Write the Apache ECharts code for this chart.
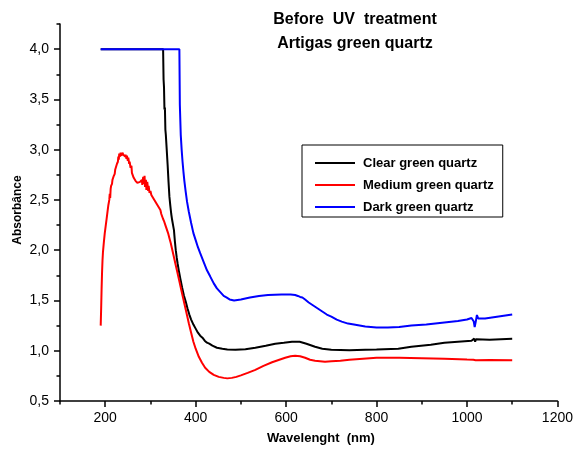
<!DOCTYPE html>
<html>
<head>
<meta charset="utf-8">
<script src="https://cdn.jsdelivr.net/npm/echarts@6/dist/echarts.min.js"></script>
<style>html,body{margin:0;padding:0;background:#fff}#c{width:576px;height:450px}</style>
</head>
<body>
<div id="c"></div>
<script>
// ---- data (wavelength nm, absorbance) ----
const seriesNames = ['Clear green quartz', 'Medium green quartz', 'Dark green quartz'];

const clearX = [190,328,329,330,331,332,333,334,336,338,340,342,344,346,348,350,352,354,356,358,360,363,366,370,374,378,382,386,390,395,400,405,410,415,420,425,430,437,447,459,470,488,510,532,555,576,595,613,630,645,664,680,700,740,775,800,848,877,920,950,980,1010,1014,1016,1018,1020,1024,1050,1100];
const clearY = [4.0,4.0,3.70,3.62,3.40,3.42,3.20,3.15,3.00,2.85,2.68,2.53,2.44,2.36,2.30,2.25,2.20,2.09,2.00,1.93,1.87,1.79,1.72,1.63,1.55,1.49,1.42,1.36,1.31,1.26,1.22,1.18,1.15,1.13,1.10,1.08,1.07,1.05,1.03,1.02,1.012,1.01,1.015,1.03,1.05,1.07,1.08,1.09,1.09,1.07,1.04,1.02,1.01,1.005,1.01,1.012,1.02,1.04,1.06,1.08,1.09,1.10,1.105,1.12,1.09,1.115,1.105,1.11,1.12];

const mediumX = [190,191,192,193,194,195,197,199,201,203,205,207,209,210,211,212,213,215,216,218,219,221,222,224,226,228,229,230,231,233,234,236,238,240,242,244,245,247,248,250,251,253,254,256,258,259,261,263,265,267,269,271,273,275,277,279,281,282,284,285,287,288,290,291,293,295,296,298,300,302,304,306,308,310,312,314,316,318,320,322,324,326,328,330,333,336,339,342,345,348,351,354,357,360,364,368,372,376,380,385,390,395,400,407,414,421,430,440,451,462,470,480,490,500,515,532,550,569,585,598,610,620,631,642,653,664,675,686,700,720,740,770,800,850,900,950,1000,1014,1017,1019,1022,1050,1100];
const mediumY = [1.25,1.42,1.62,1.78,1.90,1.98,2.08,2.17,2.24,2.31,2.38,2.45,2.50,2.56,2.52,2.61,2.64,2.66,2.70,2.69,2.74,2.76,2.80,2.81,2.86,2.88,2.93,2.90,2.96,2.93,2.97,2.94,2.97,2.95,2.96,2.93,2.95,2.91,2.94,2.89,2.92,2.86,2.88,2.82,2.84,2.77,2.76,2.72,2.73,2.69,2.70,2.67,2.68,2.66,2.68,2.67,2.70,2.65,2.73,2.66,2.74,2.63,2.70,2.60,2.68,2.59,2.64,2.57,2.59,2.55,2.56,2.52,2.53,2.49,2.50,2.46,2.47,2.43,2.44,2.40,2.36,2.35,2.31,2.29,2.25,2.21,2.17,2.12,2.07,2.01,1.95,1.89,1.83,1.77,1.69,1.61,1.53,1.45,1.37,1.27,1.18,1.09,1.02,0.94,0.88,0.83,0.79,0.76,0.74,0.73,0.725,0.73,0.74,0.755,0.78,0.81,0.85,0.885,0.91,0.93,0.945,0.95,0.945,0.93,0.91,0.90,0.895,0.89,0.895,0.90,0.91,0.92,0.93,0.93,0.925,0.92,0.912,0.91,0.92,0.905,0.912,0.908,0.905];

const darkX = [190,364,365,366,367,369,371,373,375,378,381,385,390,395,400,405,410,418,425,432,440,447,455,462,468,475,485,500,520,540,560,590,610,620,626,628,631,636,642,650,660,670,680,690,700,712,723,737,750,775,800,825,850,877,910,950,980,1000,1010,1013,1015,1017,1019,1022,1025,1028,1040,1070,1100];
const darkY = [4.0,4.0,3.45,3.30,3.15,3.00,2.88,2.78,2.69,2.58,2.48,2.38,2.27,2.17,2.10,2.03,1.97,1.88,1.80,1.74,1.67,1.62,1.58,1.545,1.53,1.51,1.50,1.51,1.53,1.545,1.555,1.56,1.56,1.555,1.545,1.555,1.535,1.53,1.51,1.48,1.45,1.42,1.39,1.36,1.34,1.31,1.29,1.27,1.26,1.24,1.23,1.23,1.235,1.25,1.26,1.28,1.295,1.31,1.325,1.33,1.29,1.235,1.28,1.355,1.32,1.315,1.32,1.34,1.36];

const xMajorTicks = [200,400,600,800,1000,1200];
const xMinorTicks = [100,300,500,700,900,1100];
const yMajorTicks = [0.5,1.0,1.5,2.0,2.5,3.0,3.5,4.0];
const yMinorTicks = [0.75,1.25,1.75,2.25,2.75,3.25,3.75,4.25];

const titleLines = ['Before  UV  treatment', 'Artigas green quartz'];
const xName = 'Wavelenght  (nm)';
const yName = 'Absorbânce';
const colors = ['#000000', '#ff0000', '#0000ff'];

// ---- chart ----
const FONT = 'Liberation Sans, Arial, Helvetica, sans-serif';
function zip(xs, ys) { return xs.map((x, i) => [x, ys[i]]); }
const chart = echarts.init(document.getElementById('c'), null, {renderer: 'canvas'});
const axisCommon = {
  type: 'value', min: 100, max: 1200,
  splitLine: {show: false}
};
const option = {
  animation: false,
  backgroundColor: '#fff',
  grid: {left: 60, right: 16, top: 24, bottom: 49, containLabel: false},
  xAxis: [
    Object.assign({}, axisCommon, {
      position: 'bottom',
      axisLine: {show: true, lineStyle: {color: '#000', width: 1.5}},
      axisTick: {show: true, inside: false, length: 6, customValues: xMajorTicks, lineStyle: {color: '#000', width: 1.5}},
      axisLabel: {show: true, customValues: xMajorTicks, margin: 10, color: '#000', fontSize: 14, fontFamily: FONT,
        formatter: v => String(Math.round(v))}
    }),
    Object.assign({}, axisCommon, {
      position: 'bottom',
      axisLine: {show: false},
      axisTick: {show: true, inside: false, length: 3.5, customValues: xMinorTicks, lineStyle: {color: '#000', width: 1.5}},
      axisLabel: {show: false}
    })
  ],
  yAxis: [
    {
      type: 'value', min: 0.5, max: 4.25, position: 'left',
      splitLine: {show: false},
      axisLine: {show: true, lineStyle: {color: '#000', width: 1.5}},
      axisTick: {show: true, length: 6, customValues: yMajorTicks, lineStyle: {color: '#000', width: 1.5}},
      axisLabel: {show: true, customValues: yMajorTicks, margin: 11, color: '#000', fontSize: 14, fontFamily: FONT,
        formatter: v => v.toFixed(1).replace('.', ',')}
    },
    {
      type: 'value', min: 0.5, max: 4.25, position: 'left',
      splitLine: {show: false},
      axisLine: {show: false},
      axisTick: {show: true, length: 3.5, customValues: yMinorTicks, lineStyle: {color: '#000', width: 1.5}},
      axisLabel: {show: false}
    }
  ],
  legend: {
    orient: 'vertical', left: 302, top: 145,
    padding: [11, 9, 3, 13],
    icon: 'rect',
    itemWidth: 40, itemHeight: 2, itemGap: 8,
    borderColor: '#000', borderWidth: 1,
    data: seriesNames,
    textStyle: {fontFamily: FONT, fontWeight: 'bold', fontSize: 13, lineHeight: 14, color: '#000', padding: [0, 0, 0, 3]}
  },
  series: [
    {name: seriesNames[0], type: 'line', data: zip(clearX, clearY), symbol: 'none', color: colors[0], lineStyle: {width: 2, color: colors[0]}},
    {name: seriesNames[1], type: 'line', data: zip(mediumX, mediumY), symbol: 'none', color: colors[1], lineStyle: {width: 2, color: colors[1]}},
    {name: seriesNames[2], type: 'line', data: zip(darkX, darkY), symbol: 'none', color: colors[2], lineStyle: {width: 2, color: colors[2]}}
  ],
  graphic: [
    {type: 'text', x: 355, y: 20, style: {text: titleLines[0], align: 'center', verticalAlign: 'middle', textAlign: 'center', textVerticalAlign: 'middle', font: 'bold 16px ' + FONT, fill: '#000'}},
    {type: 'text', x: 355, y: 44, style: {text: titleLines[1], align: 'center', verticalAlign: 'middle', textAlign: 'center', textVerticalAlign: 'middle', font: 'bold 16px ' + FONT, fill: '#000'}},
    {type: 'text', x: 321, y: 438, style: {text: xName, align: 'center', verticalAlign: 'middle', textAlign: 'center', textVerticalAlign: 'middle', font: 'bold 13px ' + FONT, fill: '#000'}},
    {type: 'text', x: 18, y: 210, rotation: Math.PI / 2, style: {text: yName, align: 'center', verticalAlign: 'middle', textAlign: 'center', textVerticalAlign: 'middle', font: 'bold 12px ' + FONT, fill: '#000'}}
  ]
};
chart.setOption(option);
</script>
</body>
</html>
